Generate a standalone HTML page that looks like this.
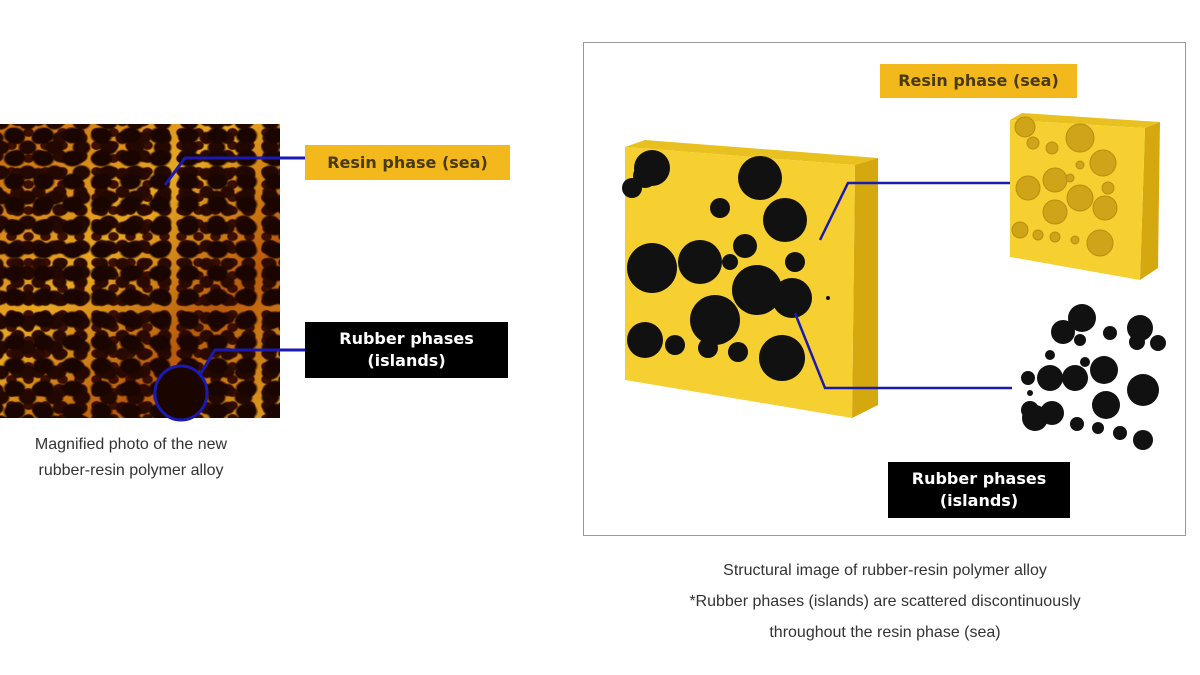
<!DOCTYPE html>
<html><head><meta charset="utf-8"><style>
body{margin:0;width:1200px;height:675px;background:#fff;position:relative;overflow:hidden;font-family:"Liberation Sans",sans-serif}
.photo{position:absolute;left:0;top:124px;width:280px;height:294px;
background:
radial-gradient(ellipse 12px 9px at 50% 50%,#1a0500 75%,transparent 100%) 0 0/29px 23px,
radial-gradient(ellipse 10px 8px at 50% 50%,#220800 75%,transparent 100%) 14px 11px/27px 25px,
radial-gradient(ellipse 8px 7px at 50% 50%,#2a0a00 75%,transparent 100%) 7px 5px/21px 18px,
radial-gradient(ellipse 6px 5px at 50% 50%,#3a0e00 75%,transparent 100%) 3px 15px/17px 13px,
linear-gradient(135deg,#c86a10,#e8a822 40%,#b85a0c 70%,#e0a020);}
.lbl{position:absolute;font-weight:bold;font-family:"DejaVu Sans","Liberation Sans",sans-serif;text-align:center}
.cap{position:absolute;color:#333;font-size:16px;text-align:center}
</style></head><body>
<div class="photo"></div>
<svg width="1200" height="675" style="position:absolute;left:0;top:0">
<polyline points="305,158 185,158 165,185" fill="none" stroke="#1a1ab0" stroke-width="3"/>
<polyline points="305,350 215,350 198,378" fill="none" stroke="#1a1ab0" stroke-width="3"/>
<ellipse cx="181" cy="393" rx="26" ry="27" fill="#1a0500" stroke="#1a1ab0" stroke-width="3"/>
<rect x="583.5" y="42.5" width="602" height="493" fill="none" stroke="#999" stroke-width="1"/>
<polygon points="625,147 645,140 878,158 855,165" fill="#e8c020"/>
<polygon points="855,165 878,158 878,405 852,418" fill="#d6a810"/>
<polygon points="625,147 855,165 852,418 625,380" fill="#f6d030"/>
<g fill="#111">
<circle cx="652" cy="168" r="18"/><circle cx="632" cy="188" r="10"/><circle cx="645" cy="176" r="12"/>
<circle cx="760" cy="178" r="22"/><circle cx="785" cy="220" r="22"/><circle cx="720" cy="208" r="10"/>
<circle cx="745" cy="246" r="12"/><circle cx="700" cy="262" r="22"/>
<circle cx="652" cy="268" r="25"/><circle cx="757" cy="290" r="25"/><circle cx="795" cy="262" r="10"/>
<circle cx="792" cy="298" r="20"/><circle cx="715" cy="320" r="25"/><circle cx="730" cy="262" r="8"/>
<circle cx="645" cy="340" r="18"/><circle cx="675" cy="345" r="10"/><circle cx="708" cy="348" r="10"/>
<circle cx="738" cy="352" r="10"/><circle cx="782" cy="358" r="23"/><circle cx="828" cy="298" r="2"/>
</g>
<polygon points="1010,120 1022,113 1160,122 1145,128" fill="#e8c020"/>
<polygon points="1145,128 1160,122 1158,268 1140,280" fill="#d6a810"/>
<polygon points="1010,120 1145,128 1140,280 1010,257" fill="#f6d030"/>
<g fill="#cfa418" stroke="#b88e10" stroke-width="1">
<circle cx="1025" cy="127" r="10"/><circle cx="1033" cy="143" r="6"/><circle cx="1052" cy="148" r="6"/>
<circle cx="1080" cy="138" r="14"/><circle cx="1103" cy="163" r="13"/><circle cx="1080" cy="165" r="4"/>
<circle cx="1028" cy="188" r="12"/><circle cx="1055" cy="180" r="12"/><circle cx="1070" cy="178" r="4"/>
<circle cx="1080" cy="198" r="13"/><circle cx="1105" cy="208" r="12"/><circle cx="1108" cy="188" r="6"/>
<circle cx="1055" cy="212" r="12"/><circle cx="1020" cy="230" r="8"/><circle cx="1038" cy="235" r="5"/>
<circle cx="1055" cy="237" r="5"/><circle cx="1075" cy="240" r="4"/><circle cx="1100" cy="243" r="13"/>
</g>
<g fill="#111">
<circle cx="1082" cy="318" r="14"/><circle cx="1063" cy="332" r="12"/><circle cx="1080" cy="340" r="6"/>
<circle cx="1110" cy="333" r="7"/><circle cx="1140" cy="328" r="13"/><circle cx="1158" cy="343" r="8"/>
<circle cx="1137" cy="342" r="8"/><circle cx="1050" cy="355" r="5"/><circle cx="1028" cy="378" r="7"/>
<circle cx="1050" cy="378" r="13"/><circle cx="1075" cy="378" r="13"/><circle cx="1104" cy="370" r="14"/>
<circle cx="1085" cy="362" r="5"/><circle cx="1143" cy="390" r="16"/><circle cx="1106" cy="405" r="14"/>
<circle cx="1030" cy="410" r="9"/><circle cx="1035" cy="418" r="13"/><circle cx="1052" cy="413" r="12"/>
<circle cx="1077" cy="424" r="7"/><circle cx="1098" cy="428" r="6"/><circle cx="1120" cy="433" r="7"/>
<circle cx="1143" cy="440" r="10"/><circle cx="1030" cy="393" r="3"/>
</g>
<polyline points="820,240 848,183 1010,183" fill="none" stroke="#1a1ab0" stroke-width="2.5"/>
<polyline points="795,313 825,388 1012,388" fill="none" stroke="#1a1ab0" stroke-width="2.5"/>
</svg>
<div class="lbl" style="left:305px;top:145px;width:205px;height:35px;line-height:35px;background:#f2b81c;color:#4a3a10;font-size:16px">Resin phase (sea)</div>
<div class="lbl" style="left:305px;top:322px;width:203px;height:56px;background:#000;color:#fff;font-size:16px;line-height:22px;padding-top:6px;box-sizing:border-box">Rubber phases<br>(islands)</div>
<div class="cap" style="left:0;top:432px;width:262px;line-height:26px">Magnified photo of the new<br>rubber-resin polymer alloy</div>
<div class="lbl" style="left:880px;top:64px;width:197px;height:34px;line-height:34px;background:#f2b81c;color:#4a3a10;font-size:16px">Resin phase (sea)</div>
<div class="lbl" style="left:888px;top:462px;width:182px;height:56px;background:#000;color:#fff;font-size:16px;line-height:22px;padding-top:6px;box-sizing:border-box">Rubber phases<br>(islands)</div>
<div class="cap" style="left:630px;top:555px;width:510px;line-height:31px">Structural image of rubber-resin polymer alloy<br>*Rubber phases (islands) are scattered discontinuously<br>throughout the resin phase (sea)</div>
</body></html>
